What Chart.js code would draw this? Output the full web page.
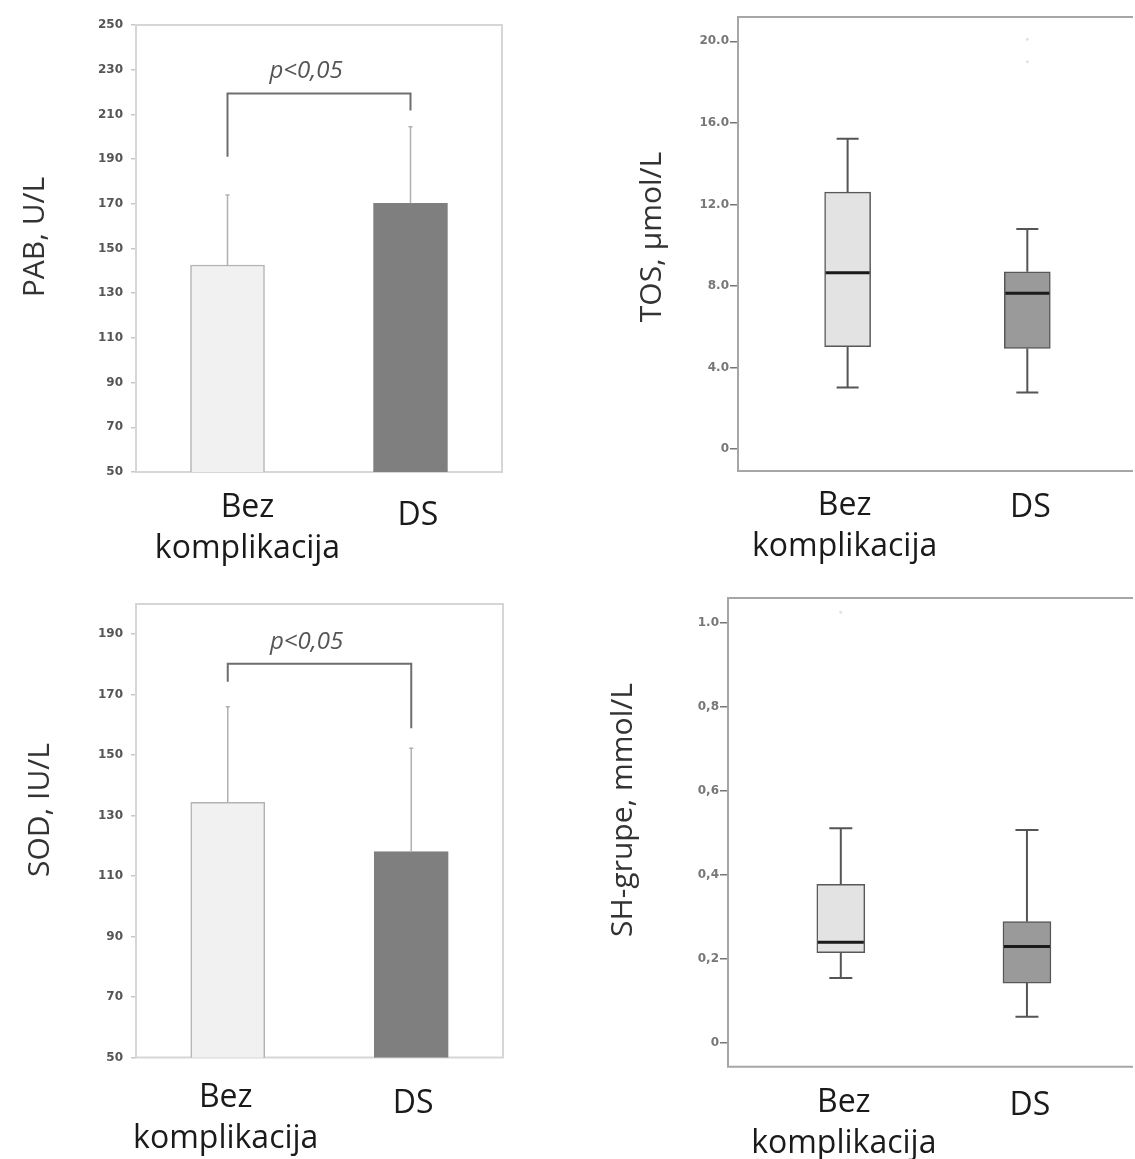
<!DOCTYPE html>
<html>
<head>
<meta charset="utf-8">
<script src="https://cdn.jsdelivr.net/npm/chart.js@4.4.1/dist/chart.umd.min.js"></script>
<style>
  html, body { margin: 0; padding: 0; background: #fff; overflow: hidden; }
  #page { position: relative; width: 1135px; height: 1159px; }
  canvas { position: absolute; }
</style>
</head>
<body>
<div id="page">
  <canvas id="pab" width="567" height="580" style="left:0;top:0"></canvas>
  <canvas id="tos" width="555" height="580" style="left:580px;top:0"></canvas>
  <canvas id="sod" width="567" height="579" style="left:0;top:580px"></canvas>
  <canvas id="sh" width="555" height="579" style="left:580px;top:580px"></canvas>
</div>
<script>
// --- grupe ---
const CATEGORIES = [['Bez', 'komplikacija'], ['DS']];

// --- PAB (srednja vrijednost + SD) ---
const PAB_MEAN = [142.6, 170.2];
const PAB_SD = [31.3, 34.3];
const PAB_BRACKET = [191, 219.4, 211.7]; // lijevi kraj, vrh, desni kraj
const PAB_TICKS = [50, 70, 90, 110, 130, 150, 170, 190, 210, 230, 250];

// --- SOD (srednja vrijednost + SD) ---
const SOD_MEAN = [134.4, 118.1];
const SOD_SD = [31.6, 34.2];
const SOD_BRACKET = [174.3, 180.2, 158.9];
const SOD_TICKS = [50, 70, 90, 110, 130, 150, 170, 190];

// --- TOS (box plot) ---
const TOS_LOW = [3.03, 2.78];
const TOS_Q1 = [5.02, 4.94];
const TOS_MEDIAN = [8.65, 7.64];
const TOS_Q3 = [12.60, 8.70];
const TOS_HIGH = [15.22, 10.80];
const TOS_OUTLIER_GROUP = [1, 1];
const TOS_OUTLIER_VALUE = [20.1, 19.0];
const TOS_TICKS = [0, 4, 8, 12, 16, 20];
const TOS_TICK_LABELS = ['0', '4.0', '8.0', '12.0', '16.0', '20.0'];

// --- SH-grupe (box plot) ---
const SH_LOW = [0.155, 0.063];
const SH_Q1 = [0.215, 0.143];
const SH_MEDIAN = [0.240, 0.230];
const SH_Q3 = [0.378, 0.289];
const SH_HIGH = [0.511, 0.507];
const SH_OUTLIER_GROUP = [0];
const SH_OUTLIER_VALUE = [1.025];
const SH_TICKS = [0, 0.2, 0.4, 0.6, 0.8, 1.0];
const SH_TICK_LABELS = ['0', '0,2', '0,4', '0,6', '0,8', '1.0'];

const LABEL_FONT = '"Open Sans", "Noto Sans", sans-serif';

// okvir, SD linije, brkovi, zagrada sa p, nazivi grupa i naslov osi
const decor = {
  id: 'decor',
  beforeDatasetsDraw(chart, args, o) {
    const { ctx, chartArea: a } = chart;
    ctx.save();
    ctx.strokeStyle = o.frameColor;
    ctx.lineWidth = 2;
    ctx.beginPath();
    if (o.frameRight) {
      ctx.rect(a.left, a.top, a.right - a.left, a.bottom - a.top);
    } else {
      ctx.moveTo(a.right + 2, a.top);
      ctx.lineTo(a.left, a.top);
      ctx.lineTo(a.left, a.bottom);
      ctx.lineTo(a.right + 2, a.bottom);
    }
    ctx.stroke();
    ctx.restore();
  },
  afterDatasetsDraw(chart, args, o) {
    const { ctx, chartArea: a } = chart;
    const y = chart.scales.y;
    const bars = chart.getDatasetMeta(0).data;
    ctx.save();

    if (o.sd) {
      ctx.strokeStyle = '#b0b0b0';
      ctx.lineWidth = 1.5;
      bars.forEach((el, i) => {
        const top = y.getPixelForValue(o.sd.mean[i] + o.sd.sd[i]);
        ctx.beginPath();
        ctx.moveTo(el.x, el.y);
        ctx.lineTo(el.x, top);
        ctx.moveTo(el.x - 2, top);
        ctx.lineTo(el.x + 2, top);
        ctx.stroke();
      });
    }

    if (o.box) {
      const b = o.box;
      bars.forEach((el, i) => {
        const x = el.x, half = el.width / 2, cap = b.cap;
        const yl = y.getPixelForValue(b.low[i]);
        const y1 = y.getPixelForValue(b.q1[i]);
        const ym = y.getPixelForValue(b.median[i]);
        const y3 = y.getPixelForValue(b.q3[i]);
        const yh = y.getPixelForValue(b.high[i]);
        ctx.strokeStyle = '#555';
        ctx.lineWidth = 2;
        ctx.beginPath();
        ctx.moveTo(x, y3); ctx.lineTo(x, yh);
        ctx.moveTo(x - cap, yh); ctx.lineTo(x + cap, yh);
        ctx.moveTo(x, y1); ctx.lineTo(x, yl);
        ctx.moveTo(x - cap, yl); ctx.lineTo(x + cap, yl);
        ctx.stroke();
        ctx.strokeStyle = '#1a1a1a';
        ctx.lineWidth = 3;
        ctx.beginPath();
        ctx.moveTo(x - half + 1, ym);
        ctx.lineTo(x + half - 1, ym);
        ctx.stroke();
      });
    }

    if (o.bracket) {
      const [l, t, r] = o.bracket.levels;
      const x0 = bars[0].x, x1 = bars[1].x;
      const yt = y.getPixelForValue(t);
      ctx.strokeStyle = '#6e6e6e';
      ctx.lineWidth = 2;
      ctx.beginPath();
      ctx.moveTo(x0, y.getPixelForValue(l));
      ctx.lineTo(x0, yt);
      ctx.lineTo(x1, yt);
      ctx.lineTo(x1, y.getPixelForValue(r));
      ctx.stroke();
      ctx.font = 'italic 24px ' + LABEL_FONT;
      ctx.fillStyle = '#555';
      ctx.textAlign = 'center';
      ctx.textBaseline = 'alphabetic';
      ctx.fillText(o.bracket.text, (x0 + x1) / 2 - 13, yt - 15);
    }

    // nazivi grupa ispod osi
    ctx.font = '32px ' + LABEL_FONT;
    ctx.fillStyle = '#1a1a1a';
    ctx.textAlign = 'center';
    ctx.textBaseline = 'alphabetic';
    CATEGORIES.forEach((lines, i) => {
      const x = bars[i].x + o.labelDx[i];
      lines.forEach((t, k) => ctx.fillText(t, x, a.bottom + o.labelDy[i] + k * 41));
    });

    // naslov y osi
    ctx.translate(o.title.x, o.title.y);
    ctx.rotate(-Math.PI / 2);
    ctx.font = '30px ' + LABEL_FONT;
    ctx.fillStyle = '#333';
    ctx.textBaseline = 'middle';
    ctx.fillText(o.title.text, 0, 0);
    ctx.restore();
  }
};

function valueAxis(min, max, ticks, labels, look) {
  return {
    min: min,
    max: max,
    afterFit: s => { s.width = look.width; },
    afterBuildTicks: s => { s.ticks = ticks.map(v => ({ value: v })); },
    ticks: {
      autoSkip: false,
      padding: look.pad,
      color: look.color,
      font: { family: 'DejaVu Sans', size: 12, weight: 'bold' },
      callback: (v, i) => labels[i]
    },
    grid: {
      drawOnChartArea: false,
      drawTicks: true,
      tickLength: look.tick,
      color: look.tickColor,
      lineWidth: 1.5
    },
    border: { display: false }
  };
}

const barLook = { width: 136, pad: 8, tick: 5, color: '#555', tickColor: '#c8c8c8' };
const boxLook = { width: 158, pad: 1, tick: 8, color: '#777', tickColor: '#777' };

function barChart(id, mean, sd, bracket, ticks, yMin, yMax, padding, title, labelDx, labelDy) {
  return new Chart(document.getElementById(id), {
    type: 'bar',
    data: {
      labels: CATEGORIES.map(c => c.join(' ')),
      datasets: [{
        data: mean,
        backgroundColor: ['#f1f1f1', '#7f7f7f'],
        borderColor: ['#b3b3b3', '#7f7f7f'],
        borderWidth: 1.5,
        barThickness: 74
      }]
    },
    options: {
      responsive: false,
      animation: false,
      layout: { padding: padding },
      plugins: {
        legend: { display: false },
        tooltip: { enabled: false },
        decor: {
          frameColor: '#d6d6d6',
          frameRight: true,
          sd: { mean: mean, sd: sd },
          bracket: { levels: bracket, text: 'p<0,05' },
          labelDx: labelDx,
          labelDy: labelDy,
          title: title
        }
      },
      scales: {
        x: { type: 'category', display: false, offset: true },
        y: valueAxis(yMin, yMax, ticks, ticks.map(String), barLook)
      }
    },
    plugins: [decor]
  });
}

function boxChart(id, box, outGroup, outValue, ticks, tickLabels, yMin, yMax, xMin, xMax, width, look, padding, title, labelDx, labelDy) {
  return new Chart(document.getElementById(id), {
    type: 'bar',
    data: {
      datasets: [{
        data: box.q1.map((q, i) => ({ x: i, y: [q, box.q3[i]] })),
        backgroundColor: ['#e3e3e3', '#9a9a9a'],
        borderColor: '#585858',
        borderWidth: 1.5,
        borderSkipped: false,
        barThickness: width
      }, {
        type: 'scatter',
        data: outGroup.map((g, i) => ({ x: g, y: outValue[i] })),
        pointRadius: 1.5,
        backgroundColor: '#e2e2e2',
        borderWidth: 0
      }]
    },
    options: {
      responsive: false,
      animation: false,
      layout: { padding: padding },
      plugins: {
        legend: { display: false },
        tooltip: { enabled: false },
        decor: {
          frameColor: '#a6a6a6',
          frameRight: false,
          box: box,
          labelDx: labelDx,
          labelDy: labelDy,
          title: title
        }
      },
      scales: {
        x: { type: 'linear', display: false, offset: false, min: xMin, max: xMax },
        y: valueAxis(yMin, yMax, ticks, tickLabels, look)
      }
    },
    plugins: [decor]
  });
}

barChart('pab', PAB_MEAN, PAB_SD, PAB_BRACKET, PAB_TICKS, 50, 250,
  { left: 0, top: 25, right: 65, bottom: 108 },
  { text: 'PAB, U/L', x: 35, y: 237 }, [20, 7.5], [45, 53]);

barChart('sod', SOD_MEAN, SOD_SD, SOD_BRACKET, SOD_TICKS, 50, 200,
  { left: 0, top: 24, right: 64, bottom: 101.5 },
  { text: 'SOD, IU/L', x: 40, y: 230 }, [-2, 2], [49, 55.5]);

boxChart('tos',
  { low: TOS_LOW, q1: TOS_Q1, median: TOS_MEDIAN, q3: TOS_Q3, high: TOS_HIGH, cap: 11 },
  TOS_OUTLIER_GROUP, TOS_OUTLIER_VALUE, TOS_TICKS, TOS_TICK_LABELS,
  -1.07, 21.19, -0.61, 1.577, 46, boxLook,
  { left: 0, top: 17, right: 0, bottom: 109 },
  { text: 'TOS, µmol/L', x: 72, y: 237 }, [-3, 3], [44, 46]);

boxChart('sh',
  { low: SH_LOW, q1: SH_Q1, median: SH_MEDIAN, q3: SH_Q3, high: SH_HIGH, cap: 11.5 },
  SH_OUTLIER_GROUP, SH_OUTLIER_VALUE, SH_TICKS, SH_TICK_LABELS,
  -0.056, 1.059, -0.606, 1.559, 48, Object.assign({}, boxLook, { width: 148 }),
  { left: 0, top: 18, right: 0, bottom: 92.3 },
  { text: 'SH-grupe, mmol/L', x: 43, y: 230 }, [3, 3], [45, 48]);
</script>
</body>
</html>
